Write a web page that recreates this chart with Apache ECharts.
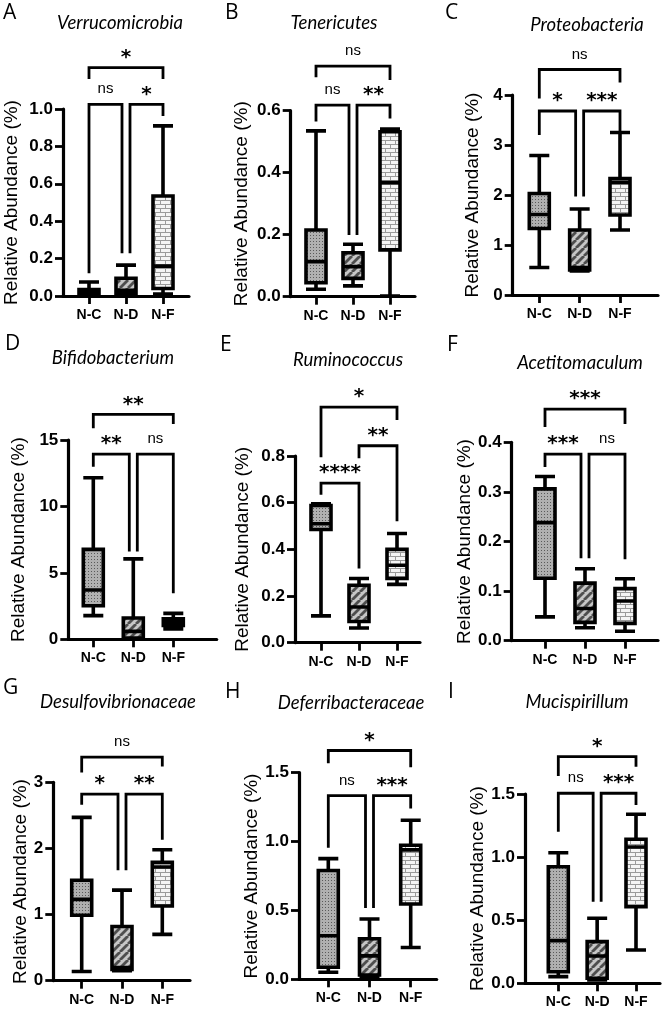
<!DOCTYPE html>
<html>
<head>
<meta charset="utf-8">
<script src="https://cdn.jsdelivr.net/npm/echarts@6/dist/echarts.min.js"></script>
<style>
  html, body { margin: 0; padding: 0; background: #fff; }
  #chart { width: 662px; height: 1010px; }
</style>
</head>
<body>
<div id="chart"></div>
<script>
// ---------------- DATA ----------------
const categories = ['N-C', 'N-D', 'N-F'];
const panelLetters = ['A', 'B', 'C', 'D', 'E', 'F', 'G', 'H', 'I'];
const panelTitles = ['Verrucomicrobia', 'Tenericutes', 'Proteobacteria', 'Bifidobacterium',
  'Ruminococcus', 'Acetitomaculum', 'Desulfovibrionaceae', 'Deferribacteraceae', 'Mucispirillum'];
const yAxisName = 'Relative Abundance (%)';
const yMax = [1.0, 0.6, 4, 15, 0.8, 0.4, 3, 1.5, 1.5];
const yInterval = [0.2, 0.2, 1, 5, 0.2, 0.1, 1, 0.5, 0.5];
const yDecimals = [1, 1, 0, 0, 1, 1, 0, 1, 1];

// box values per group: [min, Q1, median, Q3, max]
const boxA = [[0.003, 0.01, 0.02, 0.035, 0.075], [0.0, 0.01, 0.03, 0.095, 0.165], [0.01, 0.04, 0.16, 0.535, 0.91]];
const boxB = [[0.024, 0.045, 0.113, 0.215, 0.535], [0.035, 0.059, 0.097, 0.142, 0.169], [0.002, 0.151, 0.368, 0.532, 0.541]];
const boxC = [[0.55, 1.33, 1.61, 2.03, 2.79], [0.48, 0.5, 0.55, 1.3, 1.72], [1.3, 1.6, 2.25, 2.33, 3.25]];
const boxD = [[1.78, 2.53, 3.71, 6.77, 12.16], [0.0, 0.1, 0.6, 1.6, 6.05], [0.78, 1.05, 1.3, 1.55, 1.95]];
const boxE = [[0.115, 0.485, 0.51, 0.588, 0.595], [0.063, 0.091, 0.153, 0.246, 0.275], [0.25, 0.275, 0.332, 0.4, 0.468]];
const boxF = [[0.048, 0.126, 0.238, 0.306, 0.331], [0.026, 0.037, 0.065, 0.116, 0.145], [0.019, 0.035, 0.08, 0.105, 0.125]];
const boxG = [[0.14, 0.99, 1.23, 1.52, 2.47], [0.15, 0.17, 0.2, 0.82, 1.37], [0.7, 1.13, 1.72, 1.79, 1.98]];
const boxH = [[0.051, 0.088, 0.316, 0.79, 0.876], [0.015, 0.031, 0.17, 0.294, 0.438], [0.231, 0.547, 0.94, 0.973, 1.155]];
const boxI = [[0.053, 0.092, 0.338, 0.924, 1.035], [0.026, 0.04, 0.216, 0.33, 0.515], [0.264, 0.607, 1.08, 1.141, 1.34]];

// significance brackets: [fromGroup, toGroup, level, leftLegEnd, rightLegEnd]
const brA = [[0, 2, 1.221, 1.16, 1.16], [0, 1, 1.025, 0.121, 0.228], [1, 2, 1.025, 0.228, 0.963]];
const brB = [[0, 2, 0.744, 0.708, 0.699], [0, 1, 0.618, 0.565, 0.199], [1, 2, 0.618, 0.199, 0.575]];
const brC = [[0, 2, 4.51, 3.93, 4.25], [0, 1, 3.68, 3.2, 1.97], [1, 2, 3.68, 1.97, 3.27]];
const brD = [[0, 2, 16.93, 15.88, 16.2], [0, 1, 13.94, 12.99, 6.6], [1, 2, 13.94, 6.6, 3.46]];
const brE = [[0, 2, 1.009, 0.795, 0.954], [1, 2, 0.844, 0.79, 0.52], [0, 1, 0.684, 0.634, 0.318]];
const brF = [[0, 2, 0.467, 0.431, 0.437], [0, 1, 0.376, 0.35, 0.166], [1, 2, 0.376, 0.166, 0.164]];
const brG = [[0, 2, 3.38, 3.15, 3.24], [0, 1, 2.82, 2.66, 1.67], [1, 2, 2.82, 1.67, 2.13]];
const brH = [[0, 2, 1.661, 1.569, 1.54], [0, 1, 1.333, 0.956, 0.518], [1, 2, 1.333, 0.518, 1.24]];
const brI = [[0, 2, 1.796, 1.643, 1.716], [0, 1, 1.506, 1.2, 0.647], [1, 2, 1.506, 0.647, 1.413]];
const sigA = ['*', 'ns', '*'];
const sigB = ['ns', 'ns', '**'];
const sigC = ['ns', '*', '***'];
const sigD = ['**', '**', 'ns'];
const sigE = ['*', '**', '****'];
const sigF = ['***', '***', 'ns'];
const sigG = ['ns', '*', '**'];
const sigH = ['*', 'ns', '***'];
const sigI = ['*', 'ns', '***'];

const boxes = [boxA, boxB, boxC, boxD, boxE, boxF, boxG, boxH, boxI];
const brackets = [brA, brB, brC, brD, brE, brF, brG, brH, brI];
const sigs = [sigA, sigB, sigC, sigD, sigE, sigF, sigG, sigH, sigI];

// ---------------- LAYOUT (pixels) ----------------
const layout = [
  { ax: 63,    xEnd: 189,   c0: 89,    c2: 163,   top: 109,   bottom: 296,   nameGap: 42, tx: 120, ty: 23,  lx: 3,   ly: 13 },
  { ax: 290.7, xEnd: 415,   c0: 316,   c2: 390,   top: 110.7, bottom: 296.7, nameGap: 39, tx: 334, ty: 23,  lx: 225, ly: 13 },
  { ax: 512.7, xEnd: 658,   c0: 539.3, c2: 620,   top: 95,    bottom: 295,   nameGap: 30, tx: 587, ty: 25,  lx: 445, ly: 13 },
  { ax: 68.3,  xEnd: 216.7, c0: 93.3,  c2: 173.3, top: 440,   bottom: 639.3, nameGap: 40, tx: 113, ty: 358, lx: 5,   ly: 344 },
  { ax: 295,   xEnd: 420,   c0: 321,   c2: 397,   top: 456,   bottom: 642.7, nameGap: 43, tx: 348, ty: 360, lx: 220, ly: 345 },
  { ax: 511.7, xEnd: 658,   c0: 545,   c2: 625,   top: 442.3, bottom: 640.7, nameGap: 27, tx: 580, ty: 363, lx: 447, ly: 345 },
  { ax: 53.3,  xEnd: 190,   c0: 81.7,  c2: 162.3, top: 782.3, bottom: 980.7, nameGap: 23, tx: 118, ty: 702, lx: 3,   ly: 688 },
  { ax: 299,   xEnd: 436.7, c0: 328.3, c2: 410.7, top: 772.7, bottom: 979.3, nameGap: 29, tx: 351, ty: 703, lx: 225, ly: 692 },
  { ax: 525,   xEnd: 660,   c0: 558.3, c2: 636,   top: 794,   bottom: 983.3, nameGap: 33, tx: 577, ty: 702, lx: 448, ly: 692 }
];

const FONT = '"Liberation Sans", Arial, sans-serif';

// ---------------- PATTERNS ----------------
function makeCanvas(w, h) { const c = document.createElement('canvas'); c.width = w; c.height = h; return c; }
function dotPattern() {
  const c = makeCanvas(3, 3), g = c.getContext('2d');
  g.fillStyle = '#b0b0b0'; g.fillRect(0, 0, 3, 3);
  g.fillStyle = '#5a5a5a'; g.fillRect(1, 1, 1, 1);
  return c;
}
function hatchPattern() {
  const s = 8, c = makeCanvas(s, s), g = c.getContext('2d');
  g.fillStyle = '#c6c6c6'; g.fillRect(0, 0, s, s);
  g.strokeStyle = '#4e4e4e'; g.lineWidth = 2.8;
  for (let k = -s; k <= s; k += s) {
    g.beginPath(); g.moveTo(k, s); g.lineTo(k + s, 0); g.stroke();
  }
  return c;
}
function brickPattern() {
  const w = 10, h = 8, c = makeCanvas(w, h), g = c.getContext('2d');
  g.fillStyle = '#f4f4f4'; g.fillRect(0, 0, w, h);
  g.fillStyle = '#9a9a9a';
  g.fillRect(0, 0, w, 1); g.fillRect(0, 4, w, 1);
  g.fillRect(0, 0, 1, 4); g.fillRect(5, 4, 1, 4);
  return c;
}
const fills = [
  { image: dotPattern(), repeat: 'repeat' },
  { image: hatchPattern(), repeat: 'repeat' },
  { image: brickPattern(), repeat: 'repeat' }
];

// ---------------- BUILD ----------------
const grids = [], xAxes = [], yAxes = [], series = [], graphics = [];

panelTitles.forEach((title, i) => {
  const L = layout[i];
  const s = (L.c2 - L.c0) / 2;
  grids.push({ left: L.ax, top: L.top, width: L.xEnd - L.ax, height: L.bottom - L.top });
  xAxes.push({
    gridIndex: i, type: 'value',
    min: -(L.c0 - L.ax) / s, max: 2 + (L.xEnd - L.c2) / s,
    axisLine: { show: true, onZero: false, lineStyle: { color: '#000', width: 3.2 } },
    axisTick: { show: true, customValues: [0, 1, 2], length: 8, lineStyle: { color: '#000', width: 2.8 } },
    axisLabel: { show: true, customValues: [0, 1, 2], formatter: v => categories[Math.round(v)] || '',
      margin: 12, fontSize: 14, fontWeight: 'bold', color: '#000', fontFamily: FONT },
    splitLine: { show: false }
  });
  yAxes.push({
    gridIndex: i, type: 'value', min: 0, max: yMax[i], interval: yInterval[i],
    name: yAxisName, nameLocation: 'middle', nameGap: L.nameGap, nameRotate: 90,
    nameTextStyle: { fontSize: 19, color: '#000', fontFamily: FONT },
    axisLine: { show: true, onZero: false, lineStyle: { color: '#000', width: 3.2 } },
    axisTick: { show: true, length: 8, lineStyle: { color: '#000', width: 2.8 } },
    axisLabel: { formatter: v => v.toFixed(yDecimals[i]), fontSize: 17, fontWeight: 'bold',
      color: '#000', margin: 10, fontFamily: FONT },
    splitLine: { show: false }
  });
  series.push({
    type: 'boxplot', xAxisIndex: i, yAxisIndex: i, layout: 'horizontal',
    boxWidth: [20, 20], silent: true,
    itemStyle: { borderColor: '#000', borderWidth: 3.6 },
    data: boxes[i].map((v, g) => ({ value: [g].concat(v), itemStyle: { color: fills[g] } }))
  });
  const brs = brackets[i];
  series.push({
    type: 'custom', xAxisIndex: i, yAxisIndex: i, clip: false, silent: true,
    data: brs,
    renderItem: (params, api) => {
      const x1 = api.value(0), x2 = api.value(1), lvl = api.value(2), le = api.value(3), re = api.value(4);
      const others = brs.filter((o, k) => k !== params.dataIndex && Math.abs(o[2] - lvl) < 1e-9);
      const dxL = others.some(o => o[1] === x1) ? 4 : 0;
      const dxR = others.some(o => o[0] === x2) ? -4 : 0;
      const pL = api.coord([x1, lvl]), pR = api.coord([x2, lvl]);
      const pLe = api.coord([x1, le]), pRe = api.coord([x2, re]);
      const label = sigs[i][params.dataIndex];
      const isNs = label === 'ns';
      const cx = (pL[0] + dxL + pR[0] + dxR) / 2;
      return {
        type: 'group',
        children: [
          { type: 'polyline',
            shape: { points: [[pLe[0] + dxL, pLe[1]], [pL[0] + dxL, pL[1]], [pR[0] + dxR, pR[1]], [pRe[0] + dxR, pRe[1]]] },
            style: { stroke: '#000', lineWidth: 2.8, fill: null, lineJoin: 'miter' } },
          { type: 'text', x: cx, y: pL[1] - (isNs ? 15 : 10),
            style: { text: label, fill: '#000', align: 'center', verticalAlign: 'middle',
              textAlign: 'center', textVerticalAlign: 'middle',
              fontSize: isNs ? 15 : 20, fontWeight: isNs ? 'normal' : 'bold',
              fontFamily: isNs ? FONT : '"DejaVu Sans", sans-serif' } }
        ]
      };
    }
  });
  graphics.push({ type: 'text', x: L.lx, y: L.ly,
    style: { text: panelLetters[i], fill: '#000', align: 'left', verticalAlign: 'middle',
      textAlign: 'left', textVerticalAlign: 'middle', fontSize: 21, fontFamily: '"Open Sans", sans-serif' } });
  graphics.push({ type: 'text', x: L.tx, y: L.ty,
    style: { text: title, fill: '#000', align: 'center', verticalAlign: 'middle',
      textAlign: 'center', textVerticalAlign: 'middle', fontSize: 18.5, fontStyle: 'italic', fontFamily: 'Lato, sans-serif' } });
});

const chart = echarts.init(document.getElementById('chart'), null, { renderer: 'canvas' });
chart.setOption({
  backgroundColor: '#fff',
  animation: false,
  grid: grids,
  xAxis: xAxes,
  yAxis: yAxes,
  series: series,
  graphic: graphics
});
</script>
</body>
</html>
